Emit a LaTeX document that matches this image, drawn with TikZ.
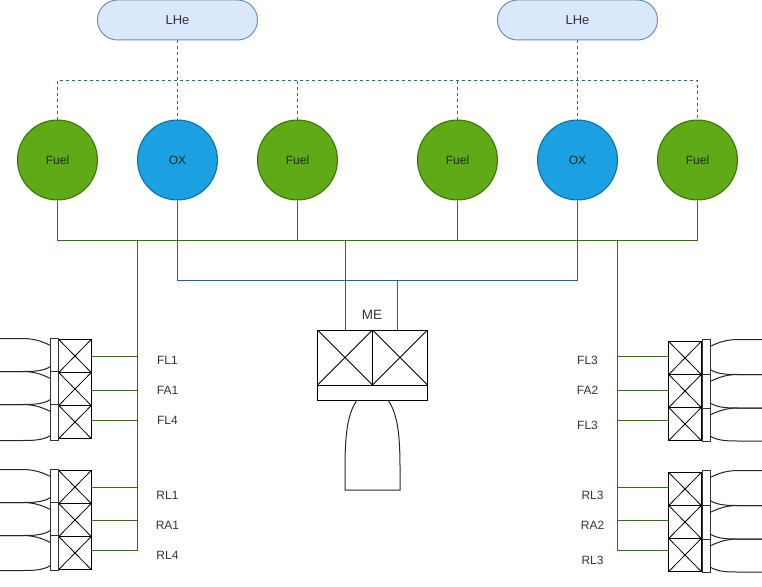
\documentclass[tikz,border=0pt]{standalone}
\usepackage{fontspec}
\setmainfont{Liberation Sans}
\usetikzlibrary{positioning}

\definecolor{fuelfill}{HTML}{60A917}
\definecolor{fuelline}{HTML}{2D7600}
\definecolor{oxfill}{HTML}{1BA1E2}
\definecolor{oxline}{HTML}{006EAF}
\definecolor{hefill}{HTML}{DAE8FC}
\definecolor{heline}{HTML}{6C8EBF}
\definecolor{hepipe}{HTML}{10739E}
\definecolor{labeltext}{HTML}{333333}

\begin{document}
\begin{tikzpicture}[
  x=1pt, y=-1pt, line width=1pt,
  node distance=0pt and 1pt,
  fuel/.style={draw=fuelline, fill=fuelfill, circle, minimum size=80pt, inner sep=0pt, font=\fontsize{12}{14}\selectfont, text=black!85},
  ox/.style={draw=oxline, fill=oxfill, circle, minimum size=80pt, inner sep=0pt, font=\fontsize{12}{14}\selectfont, text=black!85},
  lhe/.style={draw=heline, fill=hefill, rounded corners=19.9pt, minimum width=160pt, minimum height=40pt, inner sep=0pt, font=\fontsize{13}{15}\selectfont, text=labeltext},
  xbox/.style={draw=black, inner sep=0pt, outer sep=0pt, path picture={
    \draw[line width=.8pt] (path picture bounding box.north west) -- (path picture bounding box.south east);
    \draw[line width=.8pt] (path picture bounding box.south west) -- (path picture bounding box.north east);}},
  valve/.style={xbox, minimum width=32.5pt, minimum height=33pt},
  flange/.style={draw=black!80, fill=white, inner sep=0pt, outer sep=0pt, minimum width=8pt},
  tag/.style={font=\fontsize{12}{14}\selectfont, text=labeltext, inner sep=0pt},
  feed/.style={draw=fuelline},
  oxpipe/.style={draw=oxline},
  hepipes/.style={draw=hepipe, dash pattern=on 3pt off 3pt},
  nozzle/.style={draw=black!85},
  pics/thruster/.style={code={
    \draw[nozzle] (0,7) .. controls (-12,1) and (-20,0) .. (-30,0) -- (-53,0) -- (-53,#1)
      -- (-30,#1) .. controls (-18,#1) and (-8,#1) .. (0,#1-5);
  }}
]
\useasboundingbox (0,0) rectangle (762,586);

% helium bottles
\node[lhe] (he1) at (177.5,20) {LHe};
\node[lhe] (he2) at (577.5,20) {LHe};

% tanks
\node[fuel] (fuel1) at (57.5,160) {Fuel};
\node[ox] (ox1) at (177.5,160) {OX};
\node[fuel] (fuel2) at (297.5,160) {Fuel};
\node[fuel] (fuel3) at (457.5,160) {Fuel};
\node[ox] (ox2) at (577.5,160) {OX};
\node[fuel] (fuel4) at (697.5,160) {Fuel};

% pressurant lines
\coordinate (hebus) at (0,80);
\draw[hepipes] (he1) -- (ox1);
\draw[hepipes] (he2) -- (ox2);
\draw[hepipes] (fuel1) |- (hebus -| fuel4.north) -- (fuel4);
\draw[hepipes] (fuel2) -- (hebus -| fuel2);
\draw[hepipes] (fuel3) -- (hebus -| fuel3);

% main engine
\node[xbox, minimum size=55pt] (mev1) at (345,357.5) {};
\node[xbox, minimum size=55pt, right=0pt of mev1] (mev2) {};
\node[draw=black, inner sep=0pt, outer sep=0pt, minimum width=110pt, minimum height=15pt, anchor=north west] (meplate) at (mev1.south west) {};
\node[tag, font=\fontsize{13.5}{15}\selectfont] (melabel) at (372,315) {ME};
\draw[nozzle] (meplate.south -| 357,0) .. controls (349,412) and (345,428) .. (345,467) -- (345,490)
  -- (400,490) -- (400,467) .. controls (400,428) and (396,412) .. (388,400);

% left thruster pods
\node[valve] (vfl1) at (75,356) {};
\node[valve, below=of vfl1] (vfa1) {};
\node[valve, below=of vfa1] (vfl4) {};
\node[valve] (vrl1) at (75,487) {};
\node[valve, below=of vrl1] (vra1) {};
\node[valve, below=of vra1] (vrl4) {};
\node[flange, minimum height=33pt, anchor=north east] (ffl1) at (58.5,338.5) {};
\node[flange, minimum height=33pt, anchor=north east] (ffa1) at (58.5,371.5) {};
\node[flange, minimum height=36pt, anchor=north east] (ffl4) at (58.5,404.5) {};
\node[flange, minimum height=33pt, anchor=north east] (frl1) at (58.5,469.5) {};
\node[flange, minimum height=33pt, anchor=north east] (fra1) at (58.5,502.5) {};
\node[flange, minimum height=35pt, anchor=north east] (frl4) at (58.5,535.5) {};
\pic at (ffl1.north west) {thruster=33};
\pic at (ffa1.north west) {thruster=33};
\pic at (ffl4.north west) {thruster=36};
\pic at (frl1.north west) {thruster=33};
\pic at (fra1.north west) {thruster=33};
\pic at (frl4.north west) {thruster=35};

% right thruster pods
\node[valve] (vfl3) at (685,358) {};
\node[valve, below=of vfl3] (vfa2) {};
\node[valve, below=of vfa2] (vfl5) {};
\node[valve] (vrl3) at (685,489) {};
\node[valve, below=of vrl3] (vra2) {};
\node[valve, below=of vra2] (vrl5) {};
\node[flange, minimum height=35pt, anchor=north west] (ffl3) at (702,339.5) {};
\node[flange, minimum height=33.5pt, anchor=north west] (ffa2) at (702,374.5) {};
\node[flange, minimum height=33pt, anchor=north west] (ffl5) at (702,408) {};
\node[flange, minimum height=35pt, anchor=north west] (frl3) at (702,470.5) {};
\node[flange, minimum height=33.5pt, anchor=north west] (fra2) at (702,505.5) {};
\node[flange, minimum height=33pt, anchor=north west] (frl5) at (702,539) {};
\pic[xscale=-1] at (ffl3.north east) {thruster=35};
\pic[xscale=-1] at (ffa2.north east) {thruster=33.5};
\pic[xscale=-1] at (ffl5.north east) {thruster=33};
\pic[xscale=-1] at (frl3.north east) {thruster=35};
\pic[xscale=-1] at (fra2.north east) {thruster=33.5};
\pic[xscale=-1] at (frl5.north east) {thruster=33};

% fuel header
\coordinate (fuelbus) at (0,240);
\coordinate (busl) at (137.5,240);
\coordinate (busr) at (617.5,240);
\draw[feed] (fuel1) |- (fuelbus -| fuel4.south) -- (fuel4);
\draw[feed] (fuel2) -- (fuelbus -| fuel2);
\draw[feed] (fuel3) -- (fuelbus -| fuel3);
\draw[feed] (fuelbus -| mev1) -- (mev1);

% oxidiser header
\coordinate (oxbus) at (397.5,280);
\draw[oxpipe] (ox1) |- (oxbus -| ox2) -- (ox2);
\draw[oxpipe] (oxbus) -- (oxbus |- mev2.north);

% branches to the pods
\coordinate (bfl1) at (137.5,356);
\coordinate (bfa1) at (137.5,390);
\coordinate (bfl4) at (137.5,420);
\coordinate (brl1) at (137.5,487);
\coordinate (bra1) at (137.5,520);
\coordinate (brl4) at (137.5,550);
\draw[feed] (busl) -- (brl4) -- (brl4 -| vrl4.east);
\draw[feed] (bfl1) -- (bfl1 -| vfl1.east);
\draw[feed] (bfa1) -- (bfa1 -| vfa1.east);
\draw[feed] (bfl4) -- (bfl4 -| vfl4.east);
\draw[feed] (brl1) -- (brl1 -| vrl1.east);
\draw[feed] (bra1) -- (bra1 -| vra1.east);
\coordinate (bfl3) at (617.5,356);
\coordinate (bfa2) at (617.5,390);
\coordinate (bfl5) at (617.5,420);
\coordinate (brl3) at (617.5,487);
\coordinate (bra2) at (617.5,520);
\coordinate (brl5) at (617.5,550);
\draw[feed] (busr) -- (brl5) -- (brl5 -| vrl5.west);
\draw[feed] (bfl3) -- (bfl3 -| vfl3.west);
\draw[feed] (bfa2) -- (bfa2 -| vfa2.west);
\draw[feed] (bfl5) -- (bfl5 -| vfl5.west);
\draw[feed] (brl3) -- (brl3 -| vrl3.west);
\draw[feed] (bra2) -- (bra2 -| vra2.west);

% labels
\node[tag] (tfl1) at (167.5,360.5) {FL1};
\node[tag] (tfa1) at (167.5,390.5) {FA1};
\node[tag] (tfl4) at (167.5,420.5) {FL4};
\node[tag] (trl1) at (167.5,495.5) {RL1};
\node[tag] (tra1) at (167.5,525.5) {RA1};
\node[tag] (trl4) at (167.5,555.5) {RL4};
\node[tag] (tfl3) at (587.5,360.5) {FL3};
\node[tag] (tfa2) at (587.5,390.5) {FA2};
\node[tag] (tfl5) at (587.5,425.5) {FL3};
\node[tag] (trl3) at (592.5,495.5) {RL3};
\node[tag] (tra2) at (592.5,525.5) {RA2};
\node[tag] (trl5) at (592.5,560.5) {RL3};
\end{tikzpicture}
\end{document}
